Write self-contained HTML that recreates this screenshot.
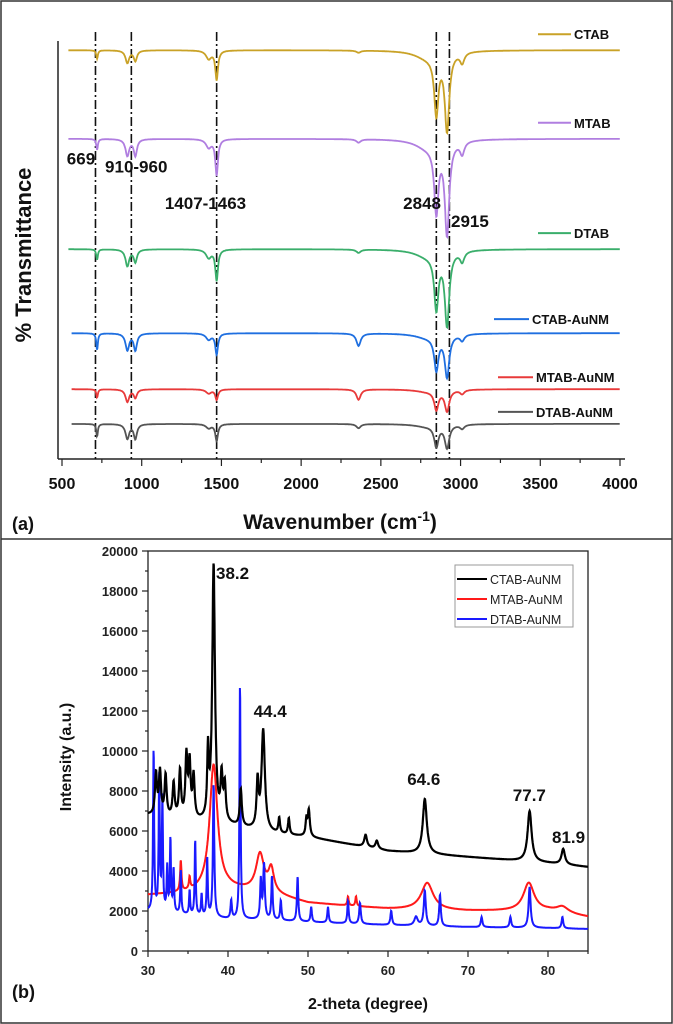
<!DOCTYPE html>
<html><head><meta charset="utf-8"><style>
html,body{margin:0;padding:0;background:#fff;}
svg{display:block;font-family:"Liberation Sans",Arial,sans-serif;}
</style></head><body>
<svg id="fig" width="673" height="1024" viewBox="0 0 673 1024">
<rect x="1" y="1" width="671" height="1022" fill="#fff" stroke="#333" stroke-width="1.5"/>
<line x1="1" y1="539" x2="672" y2="539" stroke="#333" stroke-width="1.5"/>
<g id="pa"></g>
<g id="pb"></g>
</svg>
<script>
// ---------- FTIR data (panel a) ----------
const ftirSeries = ["CTAB","MTAB","DTAB","CTAB-AuNM","MTAB-AuNM","DTAB-AuNM"];
const ftirColors = ["#c9a227","#b07ee0","#3aae6b","#1f6fe0","#e83a3a","#555555"];
const ftirBaselines = [97.8,76.6,50.2,30.1,16.7,8.4];
const ftirDipPos = [720,910,960,1420,1470,2360,2848,2915,3010];
const ftirDipWidth = [6,14,12,20,10,16,16,17,16];
const ftirDepthCTAB = [2,3,2.5,2,7,0.5,14,18.5,2.5];
const ftirDepthMTAB = [2.6,4,4,2,8.6,0.8,16,22,3];
const ftirDepthDTAB = [2.5,4,3,2,7.4,0.8,13,17.5,2.5];
const ftirDepthCTABAu = [4,4,4,1.5,5,3,8,10,1.5];
const ftirDepthMTABAu = [2,3,2,1,2.5,2.5,4.5,5,1];
const ftirDepthDTABAu = [3,3.5,3.5,1,4,1,5,5.5,1];
const ftirDepths = [ftirDepthCTAB,ftirDepthMTAB,ftirDepthDTAB,ftirDepthCTABAu,ftirDepthMTABAu,ftirDepthDTABAu];
const ftirXTicks = [500,1000,1500,2000,2500,3000,3500,4000];
const ftirMarkers = [710,935,1470,2848,2930];
const ftirAnnot = ["669","910-960","1407-1463","2848","2915"];
const ftirAnnotPos = [[530,70.5],[770,68.5],[1145,59.8],[2640,59.8],[2940,55.5]];

// ---------- XRD data (panel b) ----------
const xrdSeries = ["CTAB-AuNM","MTAB-AuNM","DTAB-AuNM"];
const xrdColors = ["#000000","#ff1a1a","#1a1aff"];
const xrdBaseX = [30,35,40,45,50,60,70,80,85];
const xrdBaseCTAB = [6800,6500,6300,5900,5700,5000,4700,4400,4200];
const xrdBaseMTAB = [2800,2900,3100,2900,2400,2100,2000,2000,1700];
const xrdBaseDTAB = [2000,1800,1600,1550,1450,1300,1200,1150,1100];
const xrdPeakPosCTAB = [31,31.5,32.2,33.2,34,34.8,35.2,35.7,37.5,38.2,39.2,39.6,41.6,43.7,44.4,46.4,47.6,49.8,50.1,57.2,58.6,64.6,77.7,81.9];
const xrdPeakHCTAB = [8800,8900,8700,8300,8900,9600,9200,8600,9700,19200,8500,8100,8000,8300,11000,6600,6600,6500,7000,5800,5500,7600,7000,5100];
const xrdPeakWCTAB = [.15,.15,.15,.15,.15,.15,.15,.15,.12,.2,.15,.15,.15,.15,.25,.12,.12,.12,.15,.2,.2,.3,.3,.25];
const xrdPeakPosMTAB = [34.1,35.2,38.2,44,45.4,55,56,64.9,77.6,81.8];
const xrdPeakHMTAB = [4400,3500,9300,4800,4000,2700,2700,3400,3400,2200];
const xrdPeakWMTAB = [.1,.1,.6,.6,.4,.1,.1,.9,.8,.9];
const xrdPeakPosDTAB = [30.7,31.4,31.8,32.4,32.8,33.2,34.1,35.2,35.9,36.7,37.4,38.2,40.4,41.5,44.1,44.5,45.5,46.6,48.7,50.4,52.5,55,56.5,60.4,63.5,64.6,66.5,71.7,75.3,77.7,81.8];
const xrdPeakHDTAB = [10000,8700,7500,4100,5500,4000,4000,3000,5500,2800,4600,8300,2500,13300,3500,4300,3700,2500,3700,2200,2200,2500,2400,2000,1700,3000,2800,1700,1700,3200,1700];
const xrdPeakWDTAB = [.08,.08,.08,.08,.08,.08,.08,.08,.08,.08,.08,.1,.1,.08,.1,.12,.1,.1,.1,.1,.1,.1,.12,.12,.25,.15,.12,.12,.12,.15,.12];
const xrdBases = [xrdBaseCTAB,xrdBaseMTAB,xrdBaseDTAB];
const xrdPos = [xrdPeakPosCTAB,xrdPeakPosMTAB,xrdPeakPosDTAB];
const xrdH = [xrdPeakHCTAB,xrdPeakHMTAB,xrdPeakHDTAB];
const xrdW = [xrdPeakWCTAB,xrdPeakWMTAB,xrdPeakWDTAB];
const xrdXTicks = [30,40,50,60,70,80];
const xrdYTicks = [0,2000,4000,6000,8000,10000,12000,14000,16000,18000,20000];
const xrdAnnot = ["38.2","44.4","64.6","77.7","81.9"];
const xrdAnnotPos = [[38.5,18600],[43.2,11700],[62.4,8300],[75.6,7500],[80.5,5400]];

const NS="http://www.w3.org/2000/svg";
function mk(parent,tag,attrs,text){const e=document.createElementNS(NS,tag);for(const k in attrs)e.setAttribute(k,attrs[k]);if(text!==undefined)e.textContent=text;parent.appendChild(e);return e;}

// ---------- Panel a ----------
const pa=document.getElementById('pa');
const ax=w=>62+(w-500)*(558/3500);
const ay=v=>459-v*4.18;
let e;
e=mk(pa,'line',{x1:58,y1:41,x2:58,y2:459,stroke:'#222','stroke-width':1.5});


e=mk(pa,'line',{x1:58,y1:459,x2:625,y2:459,stroke:'#222','stroke-width':1.5});


for(let w=500;w<=4000;w+=250){
  const major=ftirXTicks.includes(w);
  e=mk(pa,'line',{x1:ax(w),y1:459,x2:ax(w),y2:major?466:463,stroke:'#222','stroke-width':1.2});
  
  
}
ftirXTicks.forEach(t=>{
  e=mk(pa,'text',{x:ax(t),y:489,'text-anchor':'middle','font-size':16,'font-weight':'bold',fill:'#111'},String(t));
  
  
});
e=mk(pa,'text',{x:340,y:529,'text-anchor':'middle','font-size':21,'font-weight':'bold',fill:'#111'});
e.innerHTML='Wavenumber (cm<tspan dy="-8" font-size="14">-1</tspan><tspan dy="8">)</tspan>';


e=mk(pa,'text',{x:12,y:530,'font-size':18,'font-weight':'bold',fill:'#111'},'(a)');


e=mk(pa,'text',{x:0,y:0,transform:'translate(31,255) rotate(-90)','text-anchor':'middle','font-size':22,'font-weight':'bold',fill:'#111'},'% Transmittance');


ftirMarkers.forEach(m=>{
  e=mk(pa,'line',{x1:ax(m),y1:32,x2:ax(m),y2:459,stroke:'#111','stroke-width':1.6,'stroke-dasharray':'9,3,2,3'});
  
  
});
ftirSeries.forEach((name,i)=>{
  let d='';const dep=ftirDepths[i];
  const start=i<3?540:560;
  for(let w=start;w<=4000;w+=3){
    let v=ftirBaselines[i];
    ftirDipPos.forEach((p,j)=>{const z=(w-p)/ftirDipWidth[j];v-=dep[j]/(1+z*z);});
    const z2=(w-2790)/90; v-=dep[6]*0.12/(1+z2*z2);
    d+=(d?'L':'M')+ax(w).toFixed(1)+','+ay(v).toFixed(1);
  }
  e=mk(pa,'path',{d:d,fill:'none',stroke:ftirColors[i],'stroke-width':1.8});
  
  
  const ly=ay(ftirBaselines[i])-(i<3?16:12)+(i===3?-2:0);
  const long=name.length>4;
  const tx=long?(name==='CTAB-AuNM'?532:536):574;
  e=mk(pa,'line',{x1:tx-(long?38:36),y1:ly,x2:tx-3,y2:ly,stroke:ftirColors[i],'stroke-width':2});
  
  
  e=mk(pa,'text',{x:tx,y:ly+5,'font-size':13,'font-weight':'bold',fill:'#111'},name);
  
  
});
ftirAnnot.forEach((t,i)=>{
  const p=ftirAnnotPos[i];
  e=mk(pa,'text',{x:ax(p[0]),y:ay(p[1]),'font-size':17,'font-weight':'bold',fill:'#111'},t);
  
  
});

// ---------- Panel b ----------
const pb=document.getElementById('pb');
const bx=t=>148+(t-30)*(440/55);
const by=v=>951-v*(400/20000);
e=mk(pb,'rect',{x:148,y:551,width:440,height:400,fill:'none',stroke:'#222','stroke-width':1.3});


for(let v=0;v<=20000;v+=1000){
  const major=v%2000===0;
  e=mk(pb,'line',{x1:148,y1:by(v),x2:major?142:145,y2:by(v),stroke:'#222','stroke-width':1.2});
  
  
}
xrdYTicks.forEach(v=>{
  e=mk(pb,'text',{x:138,y:by(v)+5,'text-anchor':'end','font-size':13,'font-weight':'bold',fill:'#222'},String(v));
  
  
});
for(let t=30;t<=85;t+=5){
  const major=t%10===0;
  e=mk(pb,'line',{x1:bx(t),y1:951,x2:bx(t),y2:major?957:954,stroke:'#222','stroke-width':1.2});
  
  
}
xrdXTicks.forEach(t=>{
  e=mk(pb,'text',{x:bx(t),y:975,'text-anchor':'middle','font-size':13,'font-weight':'bold',fill:'#222'},String(t));
  
  
});
e=mk(pb,'text',{x:368,y:1009,'text-anchor':'middle','font-size':16,'font-weight':'bold',fill:'#111'},'2-theta (degree)');


e=mk(pb,'text',{x:0,y:0,transform:'translate(71,757) rotate(-90)','text-anchor':'middle','font-size':16,'font-weight':'bold',fill:'#111'},'Intensity (a.u.)');


e=mk(pb,'text',{x:12,y:998,'font-size':18,'font-weight':'bold',fill:'#111'},'(b)');


function baseAt(arr,t){for(let k=0;k<xrdBaseX.length-1;k++){if(t<=xrdBaseX[k+1]){const f=(t-xrdBaseX[k])/(xrdBaseX[k+1]-xrdBaseX[k]);return arr[k]+f*(arr[k+1]-arr[k]);}}return arr[arr.length-1];}
[1,2,0].forEach(i=>{
  let d='';
  for(let t=30;t<=85;t+=0.03){
    let v=baseAt(xrdBases[i],t);
    xrdPos[i].forEach((p,j)=>{const amp=xrdH[i][j]-baseAt(xrdBases[i],p);const z=(t-p)/xrdW[i][j];v+=amp/(1+z*z);});
    d+=(d?'L':'M')+bx(t).toFixed(1)+','+by(v).toFixed(1);
  }
  e=mk(pb,'path',{d:d,fill:'none',stroke:xrdColors[i],'stroke-width':i===0?2.2:2});
  
  
});
xrdAnnot.forEach((t,i)=>{
  const p=xrdAnnotPos[i];
  e=mk(pb,'text',{x:bx(p[0]),y:by(p[1]),'font-size':17,'font-weight':'bold',fill:'#111'},t);
  
  
});
e=mk(pb,'rect',{x:455,y:565,width:118,height:62,fill:'#fff',stroke:'#999','stroke-width':1});


xrdSeries.forEach((n,i)=>{
  const y=579+i*20;
  e=mk(pb,'line',{x1:457,y1:y,x2:487,y2:y,stroke:xrdColors[i],'stroke-width':2});
  
  
  e=mk(pb,'text',{x:490,y:y+5,'font-size':12.5,fill:'#222'},n);
  
  
});
</script>
</body></html>
